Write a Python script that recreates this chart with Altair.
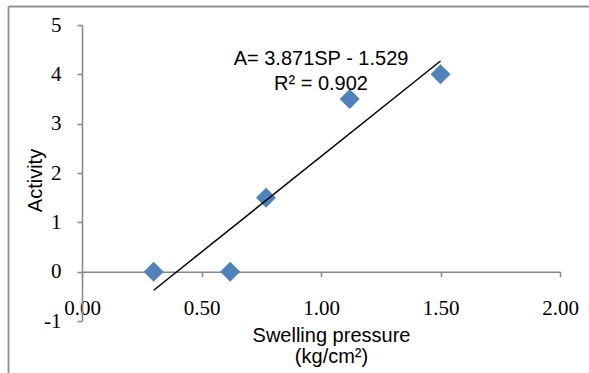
import altair as alt
import pandas as pd

# data
swelling_pressure = [0.30, 0.62, 0.77, 1.12, 1.50]
activity = [0.0, 0.0, 1.5, 3.5, 4.0]
x_ticks = [0.0, 0.5, 1.0, 1.5, 2.0]
y_ticks = [-1, 0, 1, 2, 3, 4, 5]
equation_lines = "A= 3.871SP - 1.529\nR\u00b2 = 0.902"
ann_x = [1.0]
ann_y = [4.19]

W, H = 478, 296
Y_MIN, Y_MAX = -1, 5
AXIS_GRAY = "#868686"
BORDER_GRAY = "#8f8f8f"
BLUE = "#4F81BD"

df = pd.DataFrame({"sp": swelling_pressure, "act": activity})
ann = pd.DataFrame({"sp": ann_x, "act": ann_y, "label": [equation_lines]})

xscale = alt.Scale(domain=[0, 2], nice=False, zero=False)
yscale = alt.Scale(domain=[Y_MIN, Y_MAX], nice=False, zero=False)

x_offset = -(0 - Y_MIN) / (Y_MAX - Y_MIN) * H

x_axis = alt.Axis(
    values=x_ticks, format=".2f", grid=False, offset=x_offset,
    tickSize=5, tickWidth=1.5, tickColor=AXIS_GRAY,
    domainColor=AXIS_GRAY, domainWidth=1.5,
    labelFont="Liberation Serif", labelFontSize=21, labelColor="black",
    labelPadding=21, labelFlush=False, labelOverlap=False, labelBound=False,
    title=["Swelling pressure", "(kg/cm\u00b2)"],
    titleFont="Liberation Sans", titleFontSize=20, titleFontWeight="normal",
    titleColor="black", titleX=249, titleY=70, titleAlign="center",
    titleBaseline="alphabetic", titleLineHeight=21,
)
y_axis = alt.Axis(
    values=y_ticks, grid=False, labelExpr="'' + datum.value",
    tickSize=5, tickWidth=1.5, tickColor=AXIS_GRAY,
    domainColor=AXIS_GRAY, domainWidth=1.5,
    labelFont="Liberation Serif", labelFontSize=21, labelColor="black",
    labelPadding=16, labelFlush=False, labelOverlap=False, labelBound=False,
    title="Activity", titleFont="Liberation Sans", titleFontSize=20,
    titleFontWeight="normal", titleColor="black", titleAngle=270,
    titleX=-40.5, titleY=155, titleAlign="center", titleBaseline="alphabetic",
)

X = alt.X("sp:Q", scale=xscale, axis=x_axis)
Y = alt.Y("act:Q", scale=yscale, axis=y_axis)

points = alt.Chart(df).mark_point(
    shape="diamond", filled=True, color=BLUE, size=400, opacity=1
).encode(x=X, y=Y)

trend = alt.Chart(df).transform_regression("sp", "act").mark_line(
    color="black", strokeWidth=1.5
).encode(x=X, y=Y)

text = alt.Chart(ann).mark_text(
    font="Liberation Sans", fontSize=20, color="black", align="center",
    baseline="alphabetic", lineBreak="\n", lineHeight=25
).encode(x=X, y=Y, text="label:N")

# outer chart-area frame (top and left edges are the visible ones)
frame_top = alt.Chart(ann).mark_rule(
    stroke=BORDER_GRAY, strokeWidth=1.8
).encode(x=alt.value(-73.5), x2=alt.value(620), y=alt.value(-18.5))

frame_left = alt.Chart(ann).mark_rule(
    stroke=BORDER_GRAY, strokeWidth=1.8
).encode(x=alt.value(-73.5), y=alt.value(-18.5), y2=alt.value(420))

chart = alt.layer(points, trend, text, frame_top, frame_left).properties(
    width=W, height=H,
    autosize=alt.AutoSizeParams(type="none"),
    padding={"left": 82, "top": 25, "right": 29, "bottom": 52},
    background="white",
).configure_view(stroke=None)

chart.save("out.html", embed_options={"renderer": "svg", "actions": False})
